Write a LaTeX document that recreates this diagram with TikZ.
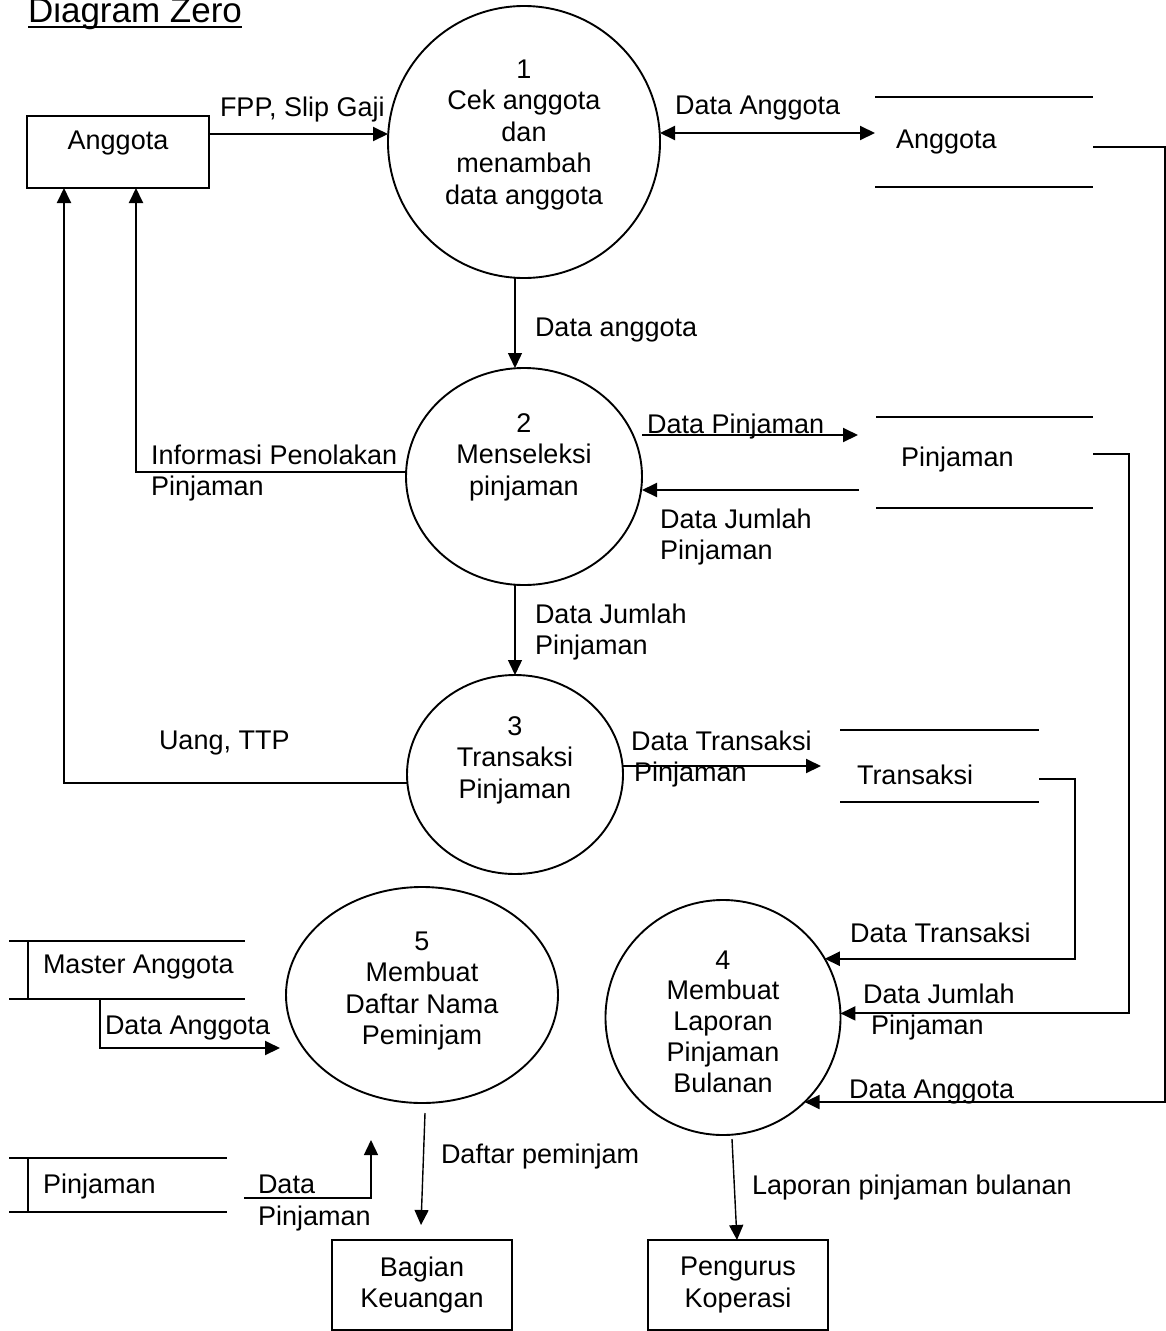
\documentclass[tikz,border=0pt]{standalone}
\usepackage{fontspec}
\setmainfont{Liberation Sans}
\usetikzlibrary{arrows.meta,shapes.geometric}
\begin{document}
\begin{tikzpicture}[x=1pt,y=-1pt,
  every node/.style={outer sep=0pt, font=\fontsize{27}{31.5}\selectfont},
  flowarrow/.style={line width=2pt, -{Triangle[length=15pt,width=14pt]}},
  thinflow/.style={line width=1.4pt, -{Triangle[length=15pt,width=14pt]}},
  bothways/.style={line width=2pt, {Triangle[length=15pt,width=14pt]}-{Triangle[length=15pt,width=14pt]}},
  procbubble/.style={ellipse, draw, line width=1.9pt, inner sep=0pt},
  extbox/.style={draw, line width=2pt, inner sep=0pt, align=center},
  lbl/.style={inner sep=0pt, anchor=west, align=left},
  ptext/.style={inner sep=0pt, align=center},
  storeline/.style={line width=2.2pt},
]
\useasboundingbox (0,0) rectangle (1166,1331);

% title
\node[inner sep=0pt, anchor=base west, font=\fontsize{35}{40}\selectfont] (title) at (28,22) {Diagram Zero};
\draw[line width=2pt] ([yshift=-5pt]title.base west) -- ([yshift=-5pt]title.base east);

% external entities
\node[extbox, minimum width=182pt, minimum height=72pt] (ent1) at (118,152) {};
\node[ptext] (ent1txt) at (118,143) {Anggota};
\node[extbox, minimum width=180pt, minimum height=90pt] (ent2) at (422,1285) {Bagian\\Keuangan};
\node[extbox, minimum width=180pt, minimum height=90pt] (ent3) at (738,1285) {Pengurus\\Koperasi};

% processes
\node[procbubble, minimum width=272pt, minimum height=272pt] (P1) at (524,142) {};
\node[ptext] (P1txt) at (524,135) {1\\Cek anggota\\dan\\menambah\\data anggota};
\node[procbubble, minimum width=236pt, minimum height=217pt] (P2) at (524,476.5) {};
\node[ptext] (P2txt) at (524,457) {2\\Menseleksi\\pinjaman};
\node[procbubble, minimum width=216pt, minimum height=199pt] (P3) at (515,774.5) {};
\node[ptext] (P3txt) at (515,760) {3\\Transaksi\\Pinjaman};
\node[procbubble, minimum width=235pt, minimum height=235pt] (P4) at (723,1017.5) {};
\begin{scope}
  \clip (600,900) rectangle (850,1092);
  \node[ptext, font=\fontsize{27}{30.75}\selectfont] (P4txt) at (723,1021.5) {4\\Membuat\\Laporan\\Pinjaman\\Bulanan};
\end{scope}
\node[procbubble, minimum width=272pt, minimum height=216pt] (P5) at (422,995) {};
\node[ptext] (P5txt) at (422,991) {5\\Membuat\\Daftar Nama\\Peminjam};

% data stores
\draw[storeline] (875,97) -- (1093,97) (875,187) -- (1093,187);
\node[lbl] (S1) at (896,142) {Anggota};
\coordinate (s1in) at (875,133);
\coordinate (s1out) at (1093,147);

\draw[storeline] (876,417) -- (1093,417) (876,508) -- (1093,508);
\node[lbl] (S2) at (901,460) {Pinjaman};
\coordinate (s2in) at (858,435);
\coordinate (s2read) at (859,490);
\coordinate (s2out) at (1093,454);

\draw[storeline] (840,730) -- (1039,730) (840,802) -- (1039,802);
\node[lbl] (S3) at (857,775) {Transaksi};
\coordinate (s3in) at (821,766);
\coordinate (s3out) at (1039,779);

\draw[storeline] (9,941) -- (245,941) (9,999) -- (245,999) (28,941) -- (28,999);
\node[lbl] (S4) at (43,967) {Master Anggota};
\coordinate (s4out) at (100,999);
\coordinate (p5in) at (280,1048);

\draw[storeline] (9,1158) -- (227,1158) (9,1212) -- (227,1212) (28,1158) -- (28,1212);
\node[lbl] (S5) at (43,1187) {Pinjaman};
\coordinate (s5out) at (244,1198);
\coordinate (p5in2) at (371,1140);

\coordinate (p5out) at (425,1113);
\coordinate (k1in) at (421,1225);
\coordinate (p4out) at (732,1139);

% data flows
\draw[flowarrow] (ent1.east |- 0,134) -- (P1.west |- 0,134);
\node[lbl] at (220,110) {FPP, Slip Gaji};

\draw[bothways] (P1.east |- 0,133) -- (s1in);
\node[lbl] at (675,108) {Data Anggota};

\draw[thinflow] (P1.south -| 515,0) -- (P2.north -| 515,0);
\node[lbl] at (535,330) {Data anggota};

\draw[flowarrow] (P2.west |- 0,472) -| ([xshift=18pt]ent1.south);
\node[lbl] at (151,473) {Informasi Penolakan\\Pinjaman};

\draw[flowarrow] (P2.east |- 0,435) -- (s2in);
\node[lbl] at (647,427) {Data Pinjaman};

\draw[flowarrow] (s2read) -- (P2.east |- 0,490);
\node[lbl] at (660,537) {Data Jumlah\\Pinjaman};

\draw[thinflow] (P2.south -| 515,0) -- (P3.north);
\node[lbl] at (535,632) {Data Jumlah\\Pinjaman};

\draw[flowarrow] (P3.west |- 0,783) -| ([xshift=-54pt]ent1.south);
\node[lbl] at (159,743) {Uang, TTP};

\draw[flowarrow] (P3.east |- 0,766) -- (s3in);
\node[lbl] at (631,759) {Data Transaksi\\\hspace*{3pt}Pinjaman};

\draw[flowarrow] (s3out) -- ++(36,0) |- (P4.30);
\node[lbl] at (850,933) {Data Transaksi};

\draw[flowarrow] (s2out) -- ++(36,0) |- (P4.2);
\node[lbl] at (863,1012) {Data Jumlah\\\hspace*{8pt}Pinjaman};

\draw[flowarrow] (s1out) -- ++(72,0) |- (P4.-46);
\node[lbl] at (849,1092) {Data Anggota};

\draw[flowarrow] (s4out) |- (p5in);
\node[lbl] at (105,1028) {Data Anggota};

\draw[thinflow] (s5out) -| (p5in2);
\node[lbl] at (258,1203) {Data\\Pinjaman};

\draw[thinflow] (p5out) -- (k1in);
\node[lbl] at (441,1157) {Daftar peminjam};

\draw[thinflow] (p4out) -- (ent3.north -| 737,0);
\node[lbl] at (752,1188) {Laporan pinjaman bulanan};
\end{tikzpicture}
\end{document}
